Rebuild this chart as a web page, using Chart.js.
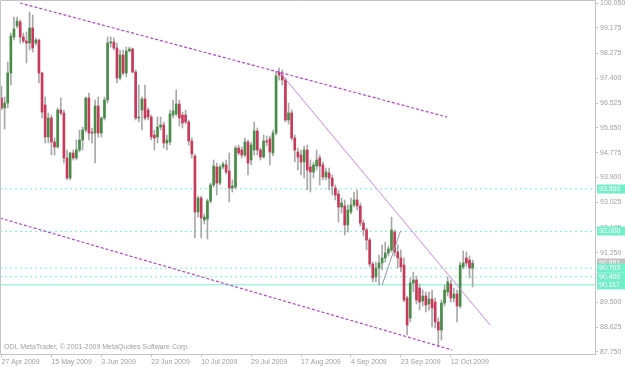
<!DOCTYPE html>
<html>
<head>
<meta charset="utf-8">
<title>ODL MetaTrader daily chart</title>
<script src="https://cdn.jsdelivr.net/npm/chart.js@4.4.1/dist/chart.umd.min.js"></script>
<style>
  html, body { margin: 0; padding: 0; background: #fff; }
  #wrap { width: 625px; height: 367px; }
</style>
</head>
<body>
<div id="wrap"><canvas id="chart" width="625" height="367"></canvas></div>
<script>
// Daily bars, index 0 = 27 Apr 2009
const opens = [
  96.702, 96.349, 96.525, 97.583, 98.852, 99.240, 99.381, 98.852, 98.711, 98.640,
  99.169, 98.640, 98.746, 97.583, 96.455, 95.327, 95.997, 95.151, 94.975, 96.279,
  96.173, 94.587, 93.882, 94.763, 94.587, 94.869, 95.221, 95.574, 96.702, 95.503,
  95.468, 96.420, 95.468, 95.997, 96.631, 98.640, 98.676, 98.464, 97.407, 98.217,
  97.583, 98.358, 98.429, 97.618, 95.997, 96.279, 96.667, 96.279, 96.032, 95.397,
  95.327, 95.679, 95.750, 95.115, 95.151, 96.102, 96.138, 96.490, 96.102, 96.102,
  95.856, 95.186, 94.657, 92.683, 93.177, 92.401, 92.436, 93.071, 93.635, 94.270,
  93.705, 94.270, 94.340, 94.128, 93.529, 93.564, 94.939, 94.869, 94.692, 95.151,
  94.516, 94.869, 95.538, 94.869, 94.622, 95.186, 95.256, 94.763, 95.468, 97.618,
  97.512, 97.336, 95.926, 96.173, 95.292, 94.798, 94.692, 94.446, 94.869, 94.270,
  94.093, 94.305, 94.587, 94.340, 93.917, 94.058, 93.882, 93.529, 93.318, 92.859,
  92.895, 92.225, 92.683, 92.930, 93.106, 92.895, 92.295, 92.049, 91.696, 90.850,
  90.392, 90.709, 90.885, 91.062, 91.238, 91.344, 91.978, 91.273, 91.062, 90.815,
  89.652, 88.947, 90.181, 90.286, 90.004, 89.546, 89.722, 89.440, 89.616, 89.511,
  88.806, 88.524, 89.475, 89.863, 90.145, 89.652, 89.793, 89.370, 90.744, 91.062,
  90.991, 90.709
];
const highs = [
  97.125, 96.737, 97.971, 98.993, 99.557, 99.557, 99.451, 98.993, 99.028, 99.733,
  99.627, 98.817, 98.781, 97.618, 96.737, 96.173, 96.102, 95.292, 96.349, 96.702,
  96.279, 94.869, 94.798, 94.869, 95.221, 95.574, 95.679, 96.737, 96.878, 95.644,
  96.631, 96.737, 96.032, 96.737, 98.852, 98.852, 98.817, 98.640, 98.394, 98.394,
  98.499, 98.499, 98.464, 97.689, 97.160, 96.737, 97.160, 96.349, 96.102, 95.574,
  96.032, 96.032, 95.856, 95.397, 96.279, 96.631, 96.984, 96.631, 96.208, 96.279,
  95.926, 95.292, 94.728, 93.247, 93.247, 92.613, 93.141, 93.705, 94.516, 94.410,
  94.340, 94.446, 94.516, 94.763, 93.811, 95.010, 95.045, 94.975, 95.292, 95.221,
  95.151, 95.856, 95.644, 94.939, 95.397, 95.362, 95.362, 95.574, 97.618, 97.759,
  97.689, 97.407, 96.525, 96.279, 95.397, 94.939, 94.869, 95.010, 95.045, 94.516,
  94.446, 94.869, 94.692, 94.446, 94.234, 94.234, 93.988, 93.635, 93.459, 93.177,
  93.106, 92.930, 93.177, 93.388, 93.459, 93.000, 92.401, 92.119, 91.767, 90.921,
  90.921, 91.168, 91.520, 91.626, 91.485, 92.507, 92.049, 91.520, 91.344, 91.062,
  89.722, 90.357, 90.568, 90.427, 90.145, 89.934, 89.863, 89.863, 89.934, 89.652,
  88.947, 89.581, 90.110, 90.392, 90.286, 90.004, 89.934, 90.921, 91.309, 91.273,
  91.132, 90.991
];
const lows = [
  96.279, 95.609, 96.349, 97.160, 98.746, 99.169, 98.640, 98.640, 97.935, 98.394,
  98.323, 98.570, 97.230, 95.997, 95.115, 95.115, 94.692, 94.692, 94.939, 96.102,
  94.410, 93.811, 93.811, 94.516, 94.516, 94.798, 94.869, 95.503, 95.221, 95.115,
  94.410, 95.327, 95.327, 95.926, 96.525, 98.499, 98.394, 97.230, 97.336, 97.512,
  97.442, 98.323, 97.583, 95.926, 95.856, 95.574, 95.926, 95.926, 95.221, 94.869,
  95.115, 95.574, 94.939, 94.869, 95.045, 95.997, 96.067, 95.715, 95.644, 95.785,
  95.045, 94.587, 91.767, 92.507, 91.767, 92.260, 91.731, 93.000, 93.564, 93.282,
  93.635, 94.199, 94.023, 93.036, 93.388, 93.494, 94.692, 94.587, 94.622, 93.988,
  94.340, 94.692, 94.692, 94.516, 94.587, 95.010, 94.340, 94.657, 95.397, 97.336,
  97.160, 95.856, 95.785, 95.221, 94.446, 94.164, 93.988, 93.882, 93.459, 93.388,
  93.882, 94.164, 93.635, 93.811, 93.811, 93.459, 93.282, 93.106, 92.331, 92.648,
  91.872, 91.978, 92.613, 92.859, 92.754, 92.190, 91.837, 91.344, 90.744, 90.216,
  90.216, 90.110, 90.639, 90.921, 91.132, 91.273, 91.132, 90.709, 90.568, 89.511,
  88.348, 88.806, 89.863, 89.440, 89.229, 89.370, 89.158, 89.229, 88.630, 88.594,
  87.924, 88.171, 89.370, 89.722, 89.511, 89.511, 88.806, 89.299, 90.674, 90.780,
  90.357, 90.040
];
const closes = [
  96.349, 96.525, 97.583, 98.887, 99.134, 99.416, 98.852, 98.711, 98.640, 99.169,
  98.464, 98.746, 97.583, 96.208, 95.327, 95.997, 95.151, 94.975, 96.279, 96.173,
  94.587, 93.882, 94.763, 94.587, 94.869, 95.221, 95.574, 96.702, 95.468, 95.468,
  96.420, 95.468, 95.997, 96.631, 98.640, 98.676, 98.464, 97.407, 98.217, 97.583,
  98.358, 98.429, 97.618, 95.997, 96.032, 96.667, 95.997, 96.032, 95.327, 95.292,
  95.679, 95.750, 95.115, 95.221, 96.138, 96.243, 96.490, 95.997, 95.820, 95.856,
  95.186, 94.728, 92.683, 93.177, 92.472, 92.507, 93.071, 93.635, 94.305, 93.705,
  94.270, 94.375, 94.093, 93.529, 93.600, 94.939, 94.763, 94.692, 95.151, 94.410,
  95.045, 95.538, 94.869, 94.622, 95.186, 95.151, 94.798, 95.468, 97.477, 97.512,
  97.336, 95.926, 96.173, 95.292, 94.869, 94.622, 94.446, 94.869, 94.164, 94.093,
  94.340, 94.516, 94.305, 93.917, 94.093, 93.882, 93.600, 93.282, 92.859, 93.000,
  92.225, 92.754, 92.930, 93.106, 92.895, 92.295, 92.049, 91.696, 90.850, 90.357,
  90.709, 90.885, 91.062, 91.238, 91.379, 92.049, 91.273, 91.062, 90.744, 89.581,
  88.700, 90.181, 90.286, 89.581, 89.511, 89.722, 89.405, 89.616, 89.299, 88.806,
  88.524, 89.475, 89.934, 90.216, 89.652, 89.793, 89.370, 90.815, 90.885, 90.885,
  90.709, 90.881
];

// time axis labels (bar index -> date)
const xTickBars = [0, 16, 32, 48, 64, 80, 96, 112, 128, 144];
const xTickLabels = ['27 Apr 2009', '15 May 2009', '3 Jun 2009', '22 Jun 2009', '10 Jul 2009',
  '29 Jul 2009', '17 Aug 2009', '4 Sep 2009', '23 Sep 2009', '12 Oct 2009'];

// price axis labels
const yTicks = [100.050, 99.175, 98.275, 97.400, 96.525, 95.650, 94.775, 93.900,
  93.025, 92.125, 91.250, 90.375, 89.500, 88.625, 87.750];

// horizontal levels and the current price
const dashedLevels = [93.500, 92.000, 90.703, 90.400];
const solidLevel = 90.117;
const lastPrice = 90.881;

// trend lines, [bar index, price] pairs
const upperChannel = [[5.9, 100.05], [142.8, 96.03]];
const lowerChannel = [[-0.5, 92.47], [144.4, 87.82]];
const breakLine = [[88.6, 97.69], [156.6, 88.70]];
const smallLine = [[122.0, 90.11], [127.9, 92.02]];

const watermark = 'ODL MetaTrader, \u00A9 2001-2009 MetaQuotes Software Corp.';

// visible window
const X_MIN = -0.48, X_MAX = 190.22;
const Y_MIN = 87.678, Y_MAX = 100.156;

const FONT = { family: '"Liberation Sans", Arial, sans-serif', size: 7 };
const AXIS_GREY = '#c4c4c4';
const TEXT_GREY = '#a0a0a0';
const BULL = 'rgb(72,140,72)';
const BEAR = 'rgb(200,58,90)';
const LEVEL = 'rgb(120,238,205)';
const TAG = 'rgb(115,238,200)';

const toPoints = pts => pts.map(p => ({ x: p[0], y: p[1] }));
const hLine = v => [{ x: X_MIN, y: v }, { x: X_MAX, y: v }];

const datasets = [
  {
    type: 'bar',
    data: highs.map((h, i) => ({ x: i, y: [lows[i], h] })),
    backgroundColor: '#a8a8a8',
    barThickness: 1,
    grouped: false,
    order: 2
  },
  {
    type: 'bar',
    data: opens.map((o, i) => ({ x: i, y: [o, closes[i]] })),
    backgroundColor: opens.map((o, i) => closes[i] >= o ? BULL : BEAR),
    barThickness: 2,
    minBarLength: 1,
    grouped: false,
    order: 1
  }
];

// levels drawn under the candles
dashedLevels.forEach(v => {
  datasets.push({
    type: 'line', data: hLine(v), borderColor: LEVEL, borderWidth: 1,
    borderDash: [2, 3], pointRadius: 0, order: 5
  });
});
datasets.push({
  type: 'line', data: hLine(solidLevel), borderColor: LEVEL, borderWidth: 1,
  pointRadius: 0, order: 5
});

// trend lines on top
[upperChannel, lowerChannel].forEach(line => {
  datasets.push({
    type: 'line', data: toPoints(line), borderColor: 'rgb(178,72,200)', borderWidth: 1.2,
    borderDash: [3, 2], pointRadius: 0, order: -1
  });
});
datasets.push({
  type: 'line', data: toPoints(breakLine), borderColor: 'rgb(208,135,238)', borderWidth: 1,
  pointRadius: 0, order: -1
});
datasets.push({
  type: 'line', data: toPoints(smallLine), borderColor: 'rgb(150,150,170)', borderWidth: 1,
  pointRadius: 0, order: -1
});

// frame, watermark and price tags
const overlayPlugin = {
  id: 'overlay',
  afterDraw(chart) {
    const { ctx, chartArea, scales } = chart;
    ctx.save();
    ctx.strokeStyle = AXIS_GREY;
    ctx.lineWidth = 1;
    ctx.beginPath();
    ctx.moveTo(chartArea.left + 0.5, chartArea.bottom);
    ctx.lineTo(chartArea.left + 0.5, chartArea.top + 0.5);
    ctx.lineTo(chartArea.right, chartArea.top + 0.5);
    ctx.stroke();

    ctx.font = FONT.size + 'px ' + FONT.family;
    ctx.fillStyle = TEXT_GREY;
    ctx.textBaseline = 'bottom';
    ctx.textAlign = 'left';
    ctx.fillText(watermark, chartArea.left + 4, chartArea.bottom - 3);

    const tag = (v, bg) => {
      const y = Math.round(scales.y.getPixelForValue(v));
      ctx.fillStyle = bg;
      ctx.fillRect(chartArea.right + 2, y - 4.5, 28, 9);
      ctx.fillStyle = '#ffffff';
      ctx.textBaseline = 'middle';
      ctx.fillText(v.toFixed(3), chartArea.right + 4, y + 0.5);
    };
    tag(lastPrice, '#c0c0c0');
    dashedLevels.concat([solidLevel]).forEach(v => tag(v, TAG));
    ctx.restore();
  }
};

new Chart(document.getElementById('chart'), {
  type: 'bar',
  data: { datasets },
  plugins: [overlayPlugin],
  options: {
    responsive: false,
    animation: false,
    events: [],
    layout: { padding: 0 },
    plugins: { legend: { display: false }, tooltip: { enabled: false } },
    elements: { line: { tension: 0 } },
    scales: {
      x: {
        type: 'linear',
        position: 'bottom',
        offset: false,
        min: X_MIN,
        max: X_MAX,
        bounds: 'data',
        afterBuildTicks: s => { s.ticks = xTickBars.map(v => ({ value: v })); },
        afterFit: s => { s.height = 13; s.paddingLeft = 0; s.paddingRight = 0; },
        ticks: {
          autoSkip: false,
          maxRotation: 0,
          align: 'start',
          padding: 1,
          color: TEXT_GREY,
          font: FONT,
          callback: (v, i) => xTickLabels[i]
        },
        grid: { offset: false, drawOnChartArea: false, tickLength: 3, color: AXIS_GREY },
        border: { color: AXIS_GREY }
      },
      y: {
        type: 'linear',
        position: 'right',
        min: Y_MIN,
        max: Y_MAX,
        bounds: 'data',
        afterBuildTicks: s => { s.ticks = yTicks.map(v => ({ value: v })); },
        afterFit: s => { s.width = 30; s.paddingTop = 0; s.paddingBottom = 0; },
        ticks: {
          padding: 2,
          color: TEXT_GREY,
          font: FONT,
          callback: v => Number(v).toFixed(3)
        },
        grid: { drawOnChartArea: false, tickLength: 3, color: AXIS_GREY },
        border: { color: AXIS_GREY }
      }
    }
  }
});
</script>
</body>
</html>
